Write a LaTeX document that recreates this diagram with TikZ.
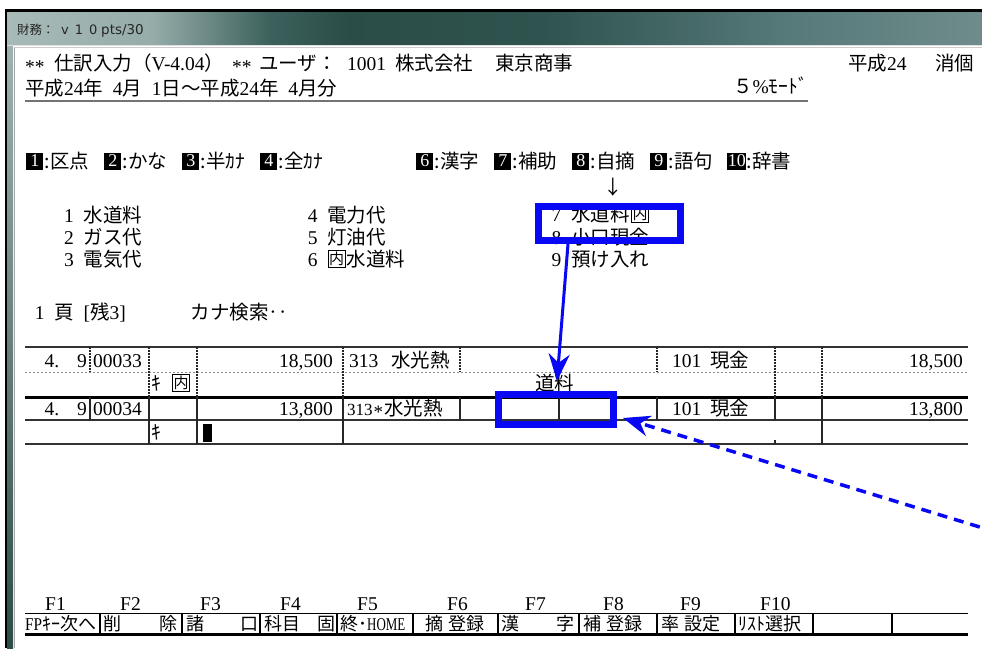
\documentclass[tikz,border=0pt]{standalone}
\usepackage{fontspec}
\setmainfont{Noto Sans CJK JP}
\newfontfamily\ro{Liberation Serif}
\newfontfamily\ui{DejaVu Sans}
\usetikzlibrary{arrows.meta}
\definecolor{bl}{RGB}{8,8,245}
\definecolor{tb1}{HTML}{A7BAB8}
\definecolor{tb2}{HTML}{95ACA9}
\definecolor{tb3}{HTML}{3C615C}
\definecolor{tb4}{HTML}{2B4D48}
\definecolor{tb5}{HTML}{2F534E}
\definecolor{tb6}{HTML}{56797A}
\definecolor{tb7}{HTML}{6F8C8B}
\definecolor{lf1}{HTML}{9FB3B1}
\definecolor{lf2}{HTML}{2C4C48}
\pgfdeclarehorizontalshading{titlebar}{100bp}{color(0bp)=(tb1); color(25bp)=(tb1); color(32.5bp)=(tb2); color(38.5bp)=(tb3); color(42.5bp)=(tb4); color(52.5bp)=(tb5); color(65bp)=(tb6); color(75bp)=(tb7); color(100bp)=(tb7)}
\newcommand\R[1]{{\ro #1}}
\newcommand\stars{\raisebox{-3pt}{\R{**}}}
\begin{document}
\begin{tikzpicture}[x=1pt,y=-1pt,
  txt/.style={inner sep=0pt, anchor=base west, font=\fontsize{19.5}{20}\selectfont, text=black},
  txtr/.style={inner sep=0pt, anchor=base east, font=\fontsize{19.5}{20}\selectfont, text=black},
  btxt/.style={txt, font=\fontsize{18}{18}\selectfont},
  fkey/.style={fill=black, text=white, inner sep=0pt, minimum height=17pt, minimum width=17pt, font=\ro\fontsize{18}{18}\selectfont},
  boxed/.style={draw=black, line width=0.9pt, inner sep=0pt, minimum size=17pt, font=\fontsize{15}{15}\selectfont},
  solidv/.style={draw=black!85, line width=1.1pt},
  dotv/.style={draw=black!85, line width=1.1pt, dash pattern=on 1.5pt off 1.5pt},
  bluebox/.style={draw=bl, line width=7pt, inner sep=0pt},
  bluearrow/.style={draw=bl, line width=3pt, -{Stealth[length=27pt,width=21pt]}},
]
\useasboundingbox (0,0) rectangle (982,648);
\clip (0,0) rectangle (982,648);
\fill[white] (0,0) rectangle (982,648);
% window frame
\fill[black] (5,9) rectangle (982,12);
\fill[shading=titlebar] (7,12) rectangle (982,45);
\fill[top color=lf1, bottom color=lf2] (7,45) rectangle (13,648);
\fill[black] (5,9) rectangle (7,648);
\draw[white!75!gray, line width=1pt] (7,45.5) -- (982,45.5);
\draw[gray!70, line width=1pt] (14,47) -- (14,648);
\draw[gray!40, line width=1pt] (14,47) -- (982,47);
% title
\node[txt, font=\fontsize{12.5}{13}\selectfont, text=black!85] (ttl1) at (17,34) {財務：};
\node[txt, font=\ui\fontsize{13}{13}\selectfont, text=black!85] (ttl2) at (61,34) {v\hspace{6pt}1\hspace{6pt}0};
\node[txt, font=\ui\fontsize{13.5}{13}\selectfont, text=black!85] (ttl3) at (101,34) {pts/30};
% header line 1
\node[txt] (h1) at (25,70) {\stars};
\node[txt] (h2) at (54,70) {仕訳入力};
\node[txt] (h3) at (132,70) {（\R{V-4.04}）};
\node[txt] (h4) at (232,70) {\stars};
\node[txt] (h5) at (259,70) {ユーザ：};
\node[txt] (h6) at (347,70) {\R{1001}};
\node[txt] (h7) at (395,70) {株式会社};
\node[txt] (h8) at (495,70) {東京商事};
\node[txt] (h9) at (848,70) {平成\R{24}};
\node[txt] (h10) at (935,70) {消個};
% header line 2
\node[txt] (p1) at (25,95) {平成\R{24}年};
\node[txt] (p2) at (112.75,95) {\R{4}月};
\node[txt] (p3) at (151.75,95) {\R{1}日～平成\R{24}年};
\node[txt] (p4) at (288.25,95) {\R{4}月分};
\node[txt] (p5) at (733,93) {５\R{\%}ﾓｰﾄﾞ};
\draw[line width=2pt, black!55] (25,101) -- (808,101);
% function keys
\node[fkey] (k1) at (34.75,161) {1};   \node[txt] (l1) at (44.5,168) {:区点};
\node[fkey] (k2) at (112.75,161) {2};  \node[txt] (l2) at (122.5,168) {:かな};
\node[fkey] (k3) at (190.75,161) {3};  \node[txt] (l3) at (200.5,168) {:半ｶﾅ};
\node[fkey] (k4) at (268.75,161) {4};  \node[txt] (l4) at (278.5,168) {:全ｶﾅ};
\node[fkey] (k6) at (424.75,161) {6};  \node[txt] (l6) at (434.5,168) {:漢字};
\node[fkey] (k7) at (502.75,161) {7};  \node[txt] (l7) at (512.5,168) {:補助};
\node[fkey] (k8) at (580.75,161) {8};  \node[txt] (l8) at (590.5,168) {:自摘};
\node[fkey] (k9) at (658.75,161) {9};  \node[txt] (l9) at (668.5,168) {:語句};
\node[fkey, minimum width=19pt] (k10) at (736.75,161) {10}; \node[txt] (l10) at (746.5,168) {:辞書};
\node[inner sep=0pt, font=\fontsize{19.5}{20}\selectfont] (darr) at (613,187) {↓};
% list
\node[txt] (n1) at (64,222) {\R{1}};  \node[txt] (m1) at (83.5,222) {水道料};
\node[txt] (n2) at (64,244) {\R{2}};  \node[txt] (m2) at (83.5,244) {ガス代};
\node[txt] (n3) at (64,266) {\R{3}};  \node[txt] (m3) at (83.5,266) {電気代};
\node[txt] (n4) at (307.75,222) {\R{4}};  \node[txt] (m4) at (327.25,222) {電力代};
\node[txt] (n5) at (307.75,244) {\R{5}};  \node[txt] (m5) at (327.25,244) {灯油代};
\node[txt] (n6) at (307.75,266) {\R{6}};
\node[boxed] (b6) at (336.5,259) {内};
\node[txt] (m6) at (346.75,266) {水道料};
\node[txt] (n7) at (551.5,221) {\R{7}};  \node[txt] (m7) at (571,221) {水道料};
\node[boxed] (b7) at (640,214) {内};
\node[txt] (n8) at (551.5,244) {\R{8}};  \node[txt] (m8) at (571,244) {小口現金};
\node[txt] (n9) at (551.5,266) {\R{9}};  \node[txt] (m9) at (571,266) {預け入れ};
% page line
\node[txt] (q1) at (34.75,319) {\R{1}};
\node[txt] (q2) at (54,319) {頁};
\node[txt] (q3) at (83.5,319) {\R{[}残\R{3]}};
\node[txt] (q4) at (190.75,319) {カナ検索‥};
% table lines
\draw[line width=1.2pt, black!80] (25,347) -- (968,347);
\draw[black!45, line width=0.8pt, dash pattern=on 2pt off 2pt] (25,372) -- (968,372);
\draw[line width=3pt, black] (25,397) -- (968,397);
\draw[line width=1.1pt, black!80] (25,420) -- (968,420);
\draw[line width=1.3pt, black!80] (25,444) -- (968,444);
\draw[dotv] (90,347) -- (90,372);
\draw[dotv] (149,347) -- (149,397);
\draw[dotv] (197,347) -- (197,397);
\draw[dotv] (343,347) -- (343,397);
\draw[dotv] (460,347) -- (460,372);
\draw[dotv] (657,347) -- (657,372);
\draw[dotv] (775,347) -- (775,397);
\draw[dotv] (822,347) -- (822,397);
\draw[solidv] (90,397) -- (90,420);
\draw[solidv] (149,397) -- (149,444);
\draw[solidv] (197,397) -- (197,444);
\draw[solidv] (343,397) -- (343,444);
\draw[solidv] (460,397) -- (460,420);
\draw[solidv] (559,397) -- (559,420);
\draw[solidv] (657,397) -- (657,420);
\draw[solidv] (775,397) -- (775,420);
\draw[solidv] (775,440) -- (775,444);
\draw[solidv] (822,397) -- (822,444);
% table row 1
\node[txt] (r1a) at (44.5,367) {\R{4.}};
\node[txt] (r1b) at (77,367) {\R{9}};
\node[txt] (r1c) at (93,367) {\R{00033}};
\node[txtr] (r1d) at (333,367) {\R{18,500}};
\node[txt] (r1e) at (349,367) {\R{313}};
\node[txt] (r1f) at (391,367) {水光熱};
\node[txt] (r1g) at (672,367) {\R{101}};
\node[txt] (r1h) at (710,367) {現金};
\node[txtr] (r1i) at (963,367) {\R{18,500}};
\node[txt] (r1j) at (151.75,390) {ｷ};
\node[boxed] (r1k) at (181,383) {内};
\node[txt] (r1l) at (535,390) {道料};
% table row 2
\node[txt] (r2a) at (44.5,415) {\R{4.}};
\node[txt] (r2b) at (77,415) {\R{9}};
\node[txt] (r2c) at (93,415) {\R{00034}};
\node[txtr] (r2d) at (333,415) {\R{13,800}};
\node[txt, font=\fontsize{17}{17}\selectfont] (r2e) at (347,415) {\R{313}};
\node[txt, font=\fontsize{19}{19}\selectfont] (r2s) at (373.5,418.5) {\R{*}};
\node[txt] (r2f) at (384,415) {水光熱};
\node[txt] (r2g) at (672,415) {\R{101}};
\node[txt] (r2h) at (710,415) {現金};
\node[txtr] (r2i) at (963,415) {\R{13,800}};
\node[txt] (r2j) at (151.75,439) {ｷ};
\node[fill=black, inner sep=0pt, minimum width=9pt, minimum height=18pt] (cur) at (207,432.5) {};
% bottom function bar
\node[txt] (f1) at (45,610) {\R{F1}};
\node[txt] (f2) at (120,610) {\R{F2}};
\node[txt] (f3) at (200,610) {\R{F3}};
\node[txt] (f4) at (280,610) {\R{F4}};
\node[txt] (f5) at (357,610) {\R{F5}};
\node[txt] (f6) at (447,610) {\R{F6}};
\node[txt] (f7) at (525,610) {\R{F7}};
\node[txt] (f8) at (603,610) {\R{F8}};
\node[txt] (f9) at (680,610) {\R{F9}};
\node[txt] (f10) at (760,610) {\R{F10}};
\draw[line width=1.2pt, black] (25,613.5) -- (968,613.5);
\draw[line width=3pt, black] (25,634) -- (968,634);
\foreach \xx in {100,182,260,337,413,498,579,657,735,813,892}
  \draw[line width=1.1pt, black] (\xx,614) -- (\xx,633);
\node[btxt] (g1) at (25,630) {\scalebox{0.85}[1]{\R{FP}}ｷｰ次へ};
\node[btxt] (g2a) at (103,630) {削};
\node[btxt] (g2b) at (159,630) {除};
\node[btxt] (g3a) at (186,630) {諸};
\node[btxt] (g3b) at (240,630) {口};
\node[btxt] (g4a) at (264,630) {科目};
\node[btxt] (g4b) at (317,630) {固};
\node[btxt] (g5) at (340,630) {終･\scalebox{0.72}[1]{\R{HOME}}};
\node[btxt] (g6a) at (425,630) {摘};
\node[btxt] (g6b) at (448,630) {登録};
\node[btxt] (g7a) at (501,630) {漢};
\node[btxt] (g7b) at (556,630) {字};
\node[btxt] (g8a) at (583,630) {補};
\node[btxt] (g8b) at (606,630) {登録};
\node[btxt] (g9a) at (661,630) {率};
\node[btxt] (g9b) at (684,630) {設定};
\node[btxt] (g10) at (738,630) {ﾘｽﾄ選択};
% blue highlights and arrows
\node[bluebox, minimum width=142pt, minimum height=34pt] (hl1) at (609.5,223.5) {};
\node[bluebox, minimum width=115pt, minimum height=30pt] (hl2) at (556,409.5) {};
\coordinate (tip1) at (557,381);
\coordinate (dstart) at (996,532);
\draw[bluearrow] ([xshift=-41.5pt]hl1.south) -- (tip1);
\draw[bluearrow, line width=3.5pt, dash pattern=on 10pt off 7pt] (dstart) -- ([shift={(6pt,-8.5pt)}]hl2.east);
\end{tikzpicture}
\end{document}
